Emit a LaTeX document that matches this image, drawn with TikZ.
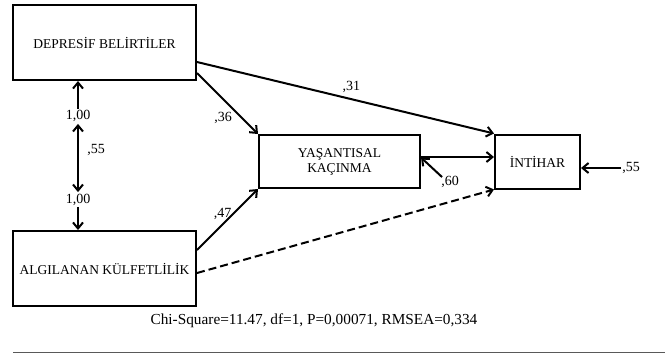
\documentclass[tikz,border=0pt]{standalone}
\usepackage{fontspec}
\setmainfont{Liberation Serif}
\usetikzlibrary{arrows.meta}

\providecommand*{\boxLine}{}
\renewcommand*{\boxLine}{2pt}

\tikzset{
  var/.style={draw,line width=\boxLine,align=center,inner sep=0pt,
    font=\fontsize{13.5}{15}\selectfont},
  coef/.style={inner sep=1pt,font=\fontsize{14}{16}\selectfont},
  path/.style={line width=2pt,-{Straight Barb[length=6pt,width=10pt,line width=2pt]}},
  cov/.style={line width=2pt,{Straight Barb[length=6pt,width=10pt,line width=2pt]}-{Straight Barb[length=6pt,width=10pt,line width=2pt]}}
}

\begin{document}
\begin{tikzpicture}[x=1pt,y=-1pt]
  \useasboundingbox (0,0) rectangle (665,357);

  % variables
  \node [var,minimum width=183pt,minimum height=75pt] (dep) at (104.5,42.5) {DEPRES\.IF BEL\.IRT\.ILER};
  \node [var,minimum width=183pt,minimum height=75pt] (alg) at (104.5,268.5) {ALGILANAN KÜLFETL\.IL\.IK};
  \node [var,minimum width=161pt,minimum height=53pt] (yas) at (339.5,161.5) {YAŞANTISAL\\KAÇINMA};
  \node [var,minimum width=85pt,minimum height=54pt] (int) at (537.5,161.5) {\.INT\.IHAR};

  % covariance
  \node [coef] (oneA) at (78,116) {1,00};
  \node [coef] (oneB) at (78,200) {1,00};
  \draw [path] (oneA.north) -- (oneA.north |- dep.south);
  \draw [path] (oneB.south) -- (oneB.south |- alg.north);
  \draw [cov] ([yshift=-1pt]oneA.south) -- ([yshift=1pt]oneB.north) node [coef,midway,xshift=18pt,yshift=8pt] {,55};

  % paths
  \draw [path] ([yshift=-19.5pt]dep.east) -- (int.north west) node [coef,pos=0.52,yshift=12pt] {,31};
  \draw [path] ([yshift=-30.5pt]dep.east) -- (yas.north west) node [coef,pos=0.5,xshift=-4.5pt,yshift=-14pt] {,36};
  \draw [path] ([yshift=18.5pt]alg.east) -- (yas.south west) node [coef,pos=0.5,xshift=-5pt,yshift=6pt] {,47};
  \draw [path,dashed,dash pattern=on 8pt off 4pt] ([yshift=-4.5pt]alg.east) -- (int.south west);
  \draw [path] ([yshift=4.5pt]yas.east) -- ([yshift=4.5pt]int.west);

  % error terms
  \node [coef] (eYas) at (450,182) {,60};
  \node [coef] (eInt) at (631,168) {,55};
  \draw [path] ([xshift=2pt,yshift=-2pt]eYas.north west) -- ([yshift=4pt]yas.east);
  \draw [path] (eInt.west) -- (eInt.west -| int.east);

  % fit
  \node [font=\fontsize{15.3}{17}\selectfont] (fit) at (314,321) {Chi-Square=11.47, df=1, P=0,00071, RMSEA=0,334};
  \coordinate (ruleL) at (13,352);
  \coordinate (ruleR) at (665,352);
  \draw [gray!70!black,line width=1pt] (ruleL) -- (ruleR);
\end{tikzpicture}
\end{document}
